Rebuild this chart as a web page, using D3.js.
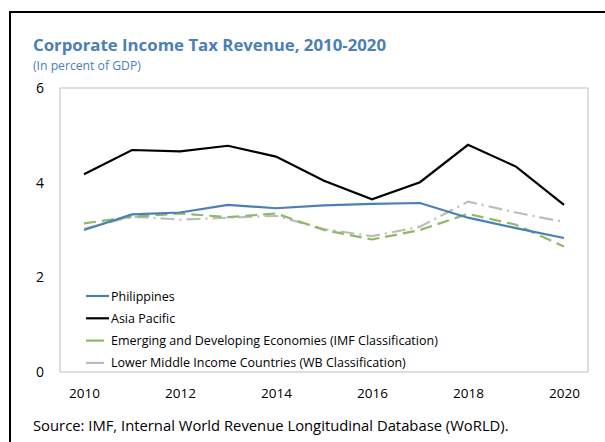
<!DOCTYPE html>
<html>
<head>
<meta charset="utf-8">
<script src="https://d3js.org/d3.v7.min.js"></script>
<style>
 body { margin: 0; background: #fff; }
 text { font-family: "Open Sans", "Noto Sans", sans-serif; }
</style>
</head>
<body>
<svg width="605" height="442"></svg>
<script>
 var years = [2010, 2011, 2012, 2013, 2014, 2015, 2016, 2017, 2018, 2019, 2020];
 var philippines = [3.00, 3.33, 3.37, 3.53, 3.46, 3.52, 3.55, 3.57, 3.26, 3.04, 2.83];
 var asiaPacific = [4.18, 4.69, 4.66, 4.78, 4.55, 4.04, 3.65, 4.01, 4.80, 4.34, 3.53];
 var emerging = [3.14, 3.28, 3.35, 3.27, 3.35, 3.00, 2.80, 3.00, 3.34, 3.11, 2.65];
 var lowerMiddle = [3.03, 3.28, 3.22, 3.26, 3.30, 3.02, 2.87, 3.07, 3.60, 3.37, 3.17];
 var yTicks = [0, 2, 4, 6];
 var xTicks = [2010, 2012, 2014, 2016, 2018, 2020];

 var series = [
   { name: "Philippines", values: philippines, color: "#4a80b6", dash: null },
   { name: "Asia Pacific", values: asiaPacific, color: "#000000", dash: null },
   { name: "Emerging and Developing Economies (IMF Classification)", values: emerging, color: "#8dba64", dash: "12,6" },
   { name: "Lower Middle Income Countries (WB Classification)", values: lowerMiddle, color: "#bdbdbd", dash: "14,5,2,5" }
 ];

 var svg = d3.select("svg");

 // outer frame
 svg.append("rect").attr("x", 10).attr("y", 12).attr("width", 640).attr("height", 460)
    .attr("fill", "none").attr("stroke", "#000").attr("stroke-width", 2);

 svg.append("text").attr("x", 33).attr("y", 51)
    .text("Corporate Income Tax Revenue, 2010-2020")
    .attr("font-size", "16.8px").attr("font-weight", "bold").attr("fill", "#4a80b6");
 svg.append("text").attr("x", 33).attr("y", 70)
    .text("(In percent of GDP)")
    .attr("font-size", "12.2px").attr("fill", "#4a80b6");

 var pLeft = 60, pRight = 588, pTop = 88, pBottom = 372;

 var x = d3.scalePoint().domain(years).range([pLeft, pRight]).padding(0.5);
 var y = d3.scaleLinear().domain([0, 6]).range([pBottom, pTop]);

 svg.append("rect").attr("x", pLeft).attr("y", pTop)
    .attr("width", pRight - pLeft).attr("height", pBottom - pTop)
    .attr("fill", "none").attr("stroke", "#bfbfbf").attr("stroke-width", 1);

 var yAxis = svg.append("g").attr("transform", "translate(" + pLeft + ",0)")
    .call(d3.axisLeft(y).tickValues(yTicks).tickSize(0).tickPadding(16).tickFormat(d3.format("d")));
 yAxis.select(".domain").remove();
 yAxis.selectAll("text").attr("font-size", "14px").attr("fill", "#000")
    .attr("font-family", "'Open Sans', sans-serif");

 var xAxis = svg.append("g").attr("transform", "translate(0," + pBottom + ")")
    .call(d3.axisBottom(x).tickValues(xTicks).tickSize(0).tickPadding(16).tickFormat(d3.format("d")));
 xAxis.select(".domain").remove();
 xAxis.selectAll("text").attr("font-size", "13.5px").attr("fill", "#000")
    .attr("font-family", "'Open Sans', sans-serif");

 var line = d3.line()
    .x(function(d, i) { return x(years[i]); })
    .y(function(d) { return y(d); });

 // draw in back-to-front order
 [3, 2, 0, 1].forEach(function(k) {
   var s = series[k];
   svg.append("path").attr("d", line(s.values))
      .attr("fill", "none").attr("stroke", s.color).attr("stroke-width", 2.2)
      .attr("stroke-dasharray", s.dash);
 });

 var legend = svg.append("g");
 series.forEach(function(s, i) {
   var ly = 296 + i * 22.3;
   legend.append("line").attr("x1", 86).attr("x2", 109).attr("y1", ly).attr("y2", ly)
      .attr("stroke", s.color).attr("stroke-width", 2.2)
      .attr("stroke-dasharray", i > 1 ? "18,5" : null);
   legend.append("text").attr("x", 111).attr("y", ly + 4.5)
      .text(s.name).attr("font-size", "12.5px").attr("fill", "#000");
 });

 svg.append("text").attr("x", 33).attr("y", 431)
    .text("Source: IMF, Internal World Revenue Longitudinal Database (WoRLD).")
    .attr("font-size", "14.8px").attr("fill", "#000");
</script>
</body>
</html>
